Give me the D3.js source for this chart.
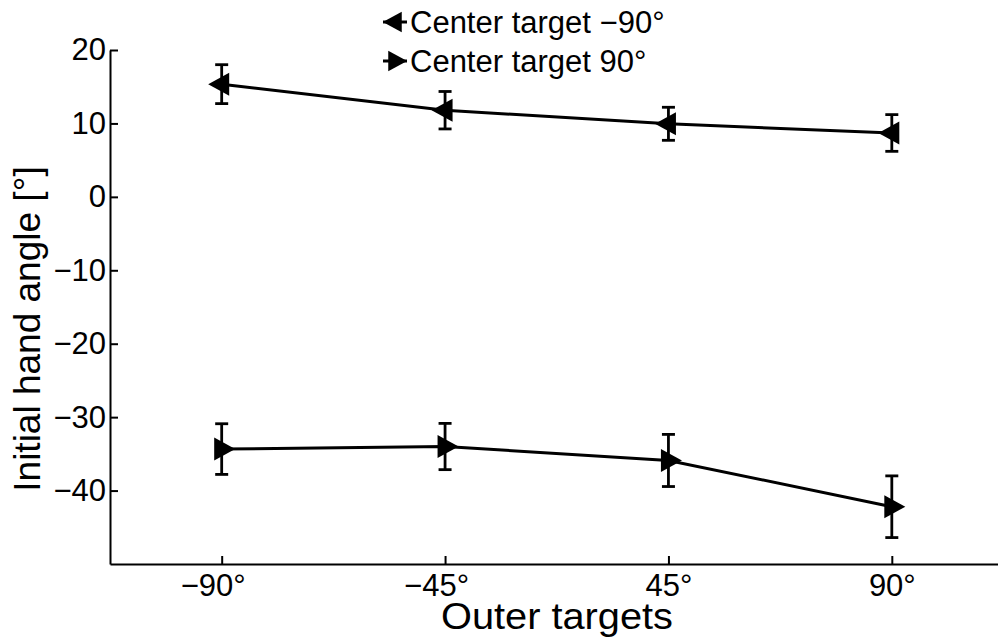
<!DOCTYPE html>
<html>
<head>
<meta charset="utf-8">
<script src="https://cdn.jsdelivr.net/npm/d3@7"></script>
<style>
  body { margin: 0; background: #fff; }
  svg { display: block; font-family: "Liberation Sans", Arial, sans-serif; }
</style>
</head>
<body>
<div id="chart-area"></div>
<script>
// outer target positions and labels
var xCats = [1, 2, 3, 4];
var xLabels = ["\u221290\u00b0", "\u221245\u00b0", "45\u00b0", "90\u00b0"];
var yTicks = [-40, -30, -20, -10, 0, 10, 20];

// center target -90 deg
var meanLeft = [15.35, 11.8, 9.95, 8.7];
var errLeft = [2.65, 2.55, 2.25, 2.5];
// center target 90 deg
var meanRight = [-34.35, -34.0, -35.9, -42.2];
var errRight = [3.45, 3.15, 3.55, 4.2];

var seriesNames = ["Center target \u221290\u00b0", "Center target 90\u00b0"];

var W = 998, H = 640;

var svg = d3.select("#chart-area").append("svg")
  .attr("width", W)
  .attr("height", H)
  .style("background-color", "white");

var x = d3.scaleLinear().domain([0.5, 4.5]).range([110, 1003.5]);
var y = d3.scaleLinear().domain([-50, 20]).range([564, 50]);

var fmtY = (d) => d < 0 ? "\u2212" + Math.abs(d) : "" + d;

// y axis
var yAxis = svg.append("g")
  .attr("transform", "translate(110,0)")
  .call(d3.axisLeft(y).tickValues(yTicks).tickFormat(fmtY)
    .tickSizeInner(-8).tickSizeOuter(0).tickPadding(4));

// x axis
var xAxis = svg.append("g")
  .attr("transform", "translate(0,564)")
  .call(d3.axisBottom(x).tickValues(xCats).tickFormat((d, i) => xLabels[i])
    .tickSizeInner(-8).tickSizeOuter(0).tickPadding(10));

[xAxis, yAxis].forEach((g) => {
  g.select(".domain").attr("stroke", "black").attr("stroke-width", 2);
  g.selectAll(".tick line").attr("stroke", "black").attr("stroke-width", 2);
  g.selectAll(".tick text").attr("font-size", 31).attr("fill", "black")
    .style("font-family", "'Liberation Sans', Arial, sans-serif");
});
// minus sign hangs to the left of the centred number
xAxis.selectAll(".tick text").attr("dx", (d, i) => xLabels[i][0] === "\u2212" ? -9 : 0);

// axis labels
svg.append("text")
  .attr("x", 557).attr("y", 629)
  .attr("text-anchor", "middle")
  .attr("font-size", 36)
  .attr("textLength", 232)
  .attr("lengthAdjust", "spacingAndGlyphs")
  .text("Outer targets");

svg.append("text")
  .attr("transform", "translate(40,329) rotate(-90)")
  .attr("text-anchor", "middle")
  .attr("font-size", 37)
  .text("Initial hand angle [\u00b0]");

// triangle markers
var triRight = (s) => "M" + (-7.5 * s) + "," + (-11.5 * s) + "L" + (13.5 * s) + ",0L" + (-7.5 * s) + "," + (11.5 * s) + "Z";
var triLeft = (s) => "M" + (7.5 * s) + "," + (-11.5 * s) + "L" + (-13.5 * s) + ",0L" + (7.5 * s) + "," + (11.5 * s) + "Z";

var series = [
  { name: seriesNames[0], mean: meanLeft, err: errLeft, marker: triLeft },
  { name: seriesNames[1], mean: meanRight, err: errRight, marker: triRight }
];

var line = d3.line().x((d) => x(d.x)).y((d) => y(d.m));

series.forEach((s) => {
  var pts = xCats.map((c, i) => ({ x: c, m: s.mean[i], e: s.err[i] }));
  var g = svg.append("g");

  // error bars
  var eb = g.selectAll(".eb").data(pts).enter().append("g")
    .attr("stroke", "black").attr("stroke-width", 2.8);
  eb.append("line")
    .attr("x1", (d) => x(d.x)).attr("x2", (d) => x(d.x))
    .attr("y1", (d) => y(d.m + d.e)).attr("y2", (d) => y(d.m - d.e));
  eb.append("line")
    .attr("x1", (d) => x(d.x) - 6.5).attr("x2", (d) => x(d.x) + 6.5)
    .attr("y1", (d) => y(d.m + d.e)).attr("y2", (d) => y(d.m + d.e));
  eb.append("line")
    .attr("x1", (d) => x(d.x) - 6.5).attr("x2", (d) => x(d.x) + 6.5)
    .attr("y1", (d) => y(d.m - d.e)).attr("y2", (d) => y(d.m - d.e));

  g.append("path")
    .datum(pts)
    .attr("d", line)
    .attr("fill", "none")
    .attr("stroke", "black")
    .attr("stroke-width", 3);

  g.selectAll(".mk").data(pts).enter().append("path")
    .attr("transform", (d) => "translate(" + x(d.x) + "," + y(d.m) + ")")
    .attr("d", s.marker(1))
    .attr("fill", "black");
});

// legend
var legend = svg.append("g");
var legY = [22, 61];
series.forEach((s, i) => {
  var lg = legend.append("g").attr("transform", "translate(395," + legY[i] + ")");
  lg.append("line")
    .attr("x1", -12).attr("x2", 12)
    .attr("stroke", "black").attr("stroke-width", 3);
  lg.append("path").attr("d", s.marker(0.9)).attr("fill", "black");
  lg.append("text")
    .attr("x", 15).attr("y", 11)
    .attr("font-size", 31)
    .text(s.name);
});
</script>
</body>
</html>
